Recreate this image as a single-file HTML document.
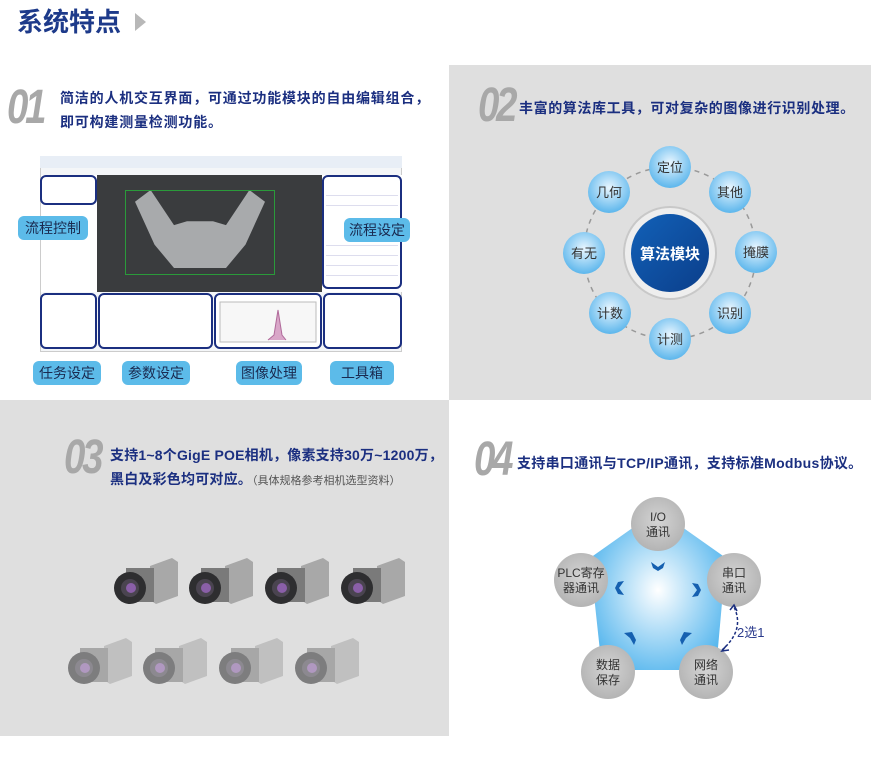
<!DOCTYPE html>
<html><head><meta charset="utf-8"><style>
*{margin:0;padding:0;box-sizing:border-box}
body{width:871px;height:759px;position:relative;background:#fff;font-family:"Liberation Sans","Noto Sans CJK SC",sans-serif;overflow:hidden}
.a{position:absolute}
.t{color:#1b2f80;font-weight:bold;font-size:14px;line-height:24px;white-space:nowrap;letter-spacing:0.8px}
.num{color:#a8a8a8;font-style:italic;font-weight:bold;font-size:48px;letter-spacing:-4px;font-family:"Liberation Sans",sans-serif;transform:scaleX(0.8);transform-origin:left}
.lab{background:#5cbbe9;border-radius:6px;color:#1a2a50;font-size:14px;text-align:center;line-height:24px}
.bb{border:2.5px solid #1b2f80;border-radius:6px}
.row{position:absolute;height:1px;background:#dde}
</style></head><body>
<div class="a" style="left:17px;top:5px;font-size:26px;font-weight:bold;color:#1d3a8a;line-height:34px">系统特点</div>
<div class="a" style="left:135px;top:13px;width:0;height:0;border-left:11px solid #b8b8b8;border-top:9px solid transparent;border-bottom:9px solid transparent"></div>

<div class="a" style="left:449px;top:65px;width:422px;height:335px;background:#dfdfdf"></div>
<div class="a" style="left:0;top:400px;width:449px;height:336px;background:#dfdfdf"></div>

<div class="a num" style="left:7px;top:80px">01</div>
<div class="a t" style="left:60px;top:86px">简洁的人机交互界面，可通过功能模块的自由编辑组合，<br>即可构建测量检测功能。</div>
<div class="a num" style="left:478px;top:78px">02</div>
<div class="a t" style="left:519px;top:96px;letter-spacing:0.6px">丰富的算法库工具，可对复杂的图像进行识别处理。</div>
<div class="a num" style="left:64px;top:430px">03</div>
<div class="a t" style="left:110px;top:443px;letter-spacing:0.2px">支持1~8个GigE POE相机，像素支持30万~1200万，<br>黑白及彩色均可对应。<span style="font-weight:normal;font-size:11px;color:#555;letter-spacing:0">（具体规格参考相机选型资料）</span></div>
<div class="a num" style="left:474px;top:432px">04</div>
<div class="a t" style="left:517px;top:451px;letter-spacing:0.3px">支持串口通讯与TCP/IP通讯，支持标准Modbus协议。</div>

<!-- screenshot -->
<div class="a" style="left:40px;top:156px;width:362px;height:196px;background:#f4f6f8;border:1px solid #ccc"></div>
<div class="a" style="left:40px;top:156px;width:362px;height:12px;background:#e8eef6"></div>
<div class="a" style="left:97px;top:175px;width:225px;height:117px;background:#3a3c3e"></div>
<div class="a" style="left:135px;top:190px;width:130px;height:78px;background:#a8aaac;clip-path:polygon(0 15%,12% 0,30% 45%,40% 40%,60% 40%,70% 45%,88% 0,100% 15%,85% 70%,70% 100%,30% 100%,15% 70%)"></div>
<div class="a" style="left:125px;top:190px;width:150px;height:85px;border:1px solid #2a9a3a"></div>
<div class="a" style="left:41px;top:175px;width:56px;height:117px;background:#fff"></div>
<div class="a" style="left:322px;top:175px;width:80px;height:117px;background:#fff"></div>
<div class="row" style="left:326px;top:195px;width:72px"></div><div class="row" style="left:326px;top:205px;width:72px"></div><div class="row" style="left:326px;top:245px;width:72px"></div><div class="row" style="left:326px;top:255px;width:72px"></div><div class="row" style="left:326px;top:265px;width:72px"></div><div class="row" style="left:326px;top:275px;width:72px"></div>
<div class="a bb" style="left:40px;top:175px;width:57px;height:30px"></div>
<div class="a bb" style="left:322px;top:175px;width:80px;height:114px"></div>
<div class="a bb" style="left:40px;top:293px;width:57px;height:56px;background:#fff"></div>
<div class="a bb" style="left:98px;top:293px;width:115px;height:56px;background:#fff"></div>
<div class="a bb" style="left:214px;top:293px;width:108px;height:56px;background:#fff"></div>
<div class="a bb" style="left:323px;top:293px;width:79px;height:56px;background:#fff"></div>
<svg class="a" style="left:218px;top:300px" width="100" height="45"><rect x="2" y="2" width="96" height="40" fill="#f7f7f7" stroke="#bbb"/><path d="M50 40 L56 35 L60 10 L64 35 L68 40" fill="#d9a6c8" stroke="#b06a9a"/></svg>
<div class="a lab" style="left:18px;top:216px;width:70px">流程控制</div>
<div class="a lab" style="left:344px;top:218px;width:66px">流程设定</div>
<div class="a lab" style="left:33px;top:361px;width:68px">任务设定</div>
<div class="a lab" style="left:122px;top:361px;width:68px">参数设定</div>
<div class="a lab" style="left:236px;top:361px;width:66px">图像处理</div>
<div class="a lab" style="left:330px;top:361px;width:64px">工具箱</div>

<!-- algorithm circle -->
<svg class="a" style="left:449px;top:65px" width="422" height="335" font-family="Liberation Sans,Noto Sans CJK SC,sans-serif">
<defs><radialGradient id="sb" cx="50%" cy="40%" r="60%"><stop offset="0" stop-color="#e9f6ff"/><stop offset="1" stop-color="#5cb6ec"/></radialGradient>
<linearGradient id="cb" x1="0" y1="0" x2="1" y2="1"><stop offset="0" stop-color="#1261b8"/><stop offset="1" stop-color="#0b3e8a"/></linearGradient></defs>
<circle cx="221" cy="188" r="86" fill="none" stroke="#999" stroke-width="1.5" stroke-dasharray="5 5"/>
<circle cx="221" cy="188" r="46" fill="#eee" stroke="#c8c8c8" stroke-width="2"/>
<circle cx="221" cy="188" r="39" fill="url(#cb)"/>
<text x="221" y="194" text-anchor="middle" fill="#fff" font-size="15" font-weight="bold">算法模块</text>
<g font-size="13" fill="#333" text-anchor="middle">
<circle cx="221" cy="102" r="21" fill="url(#sb)"/><text x="221" y="107">定位</text>
<circle cx="281" cy="127" r="21" fill="url(#sb)"/><text x="281" y="132">其他</text>
<circle cx="307" cy="187" r="21" fill="url(#sb)"/><text x="307" y="192">掩膜</text>
<circle cx="281" cy="248" r="21" fill="url(#sb)"/><text x="281" y="253">识别</text>
<circle cx="221" cy="274" r="21" fill="url(#sb)"/><text x="221" y="279">计测</text>
<circle cx="161" cy="248" r="21" fill="url(#sb)"/><text x="161" y="253">计数</text>
<circle cx="135" cy="188" r="21" fill="url(#sb)"/><text x="135" y="193">有无</text>
<circle cx="160" cy="127" r="21" fill="url(#sb)"/><text x="160" y="132">几何</text>
</g></svg>

<!-- cameras -->
<svg class="a" style="left:0;top:540px" width="449" height="196">
<defs><g id="cam"><path d="M40 8 L62 0 L68 4 L68 38 L46 46 L40 42Z" fill="#a8a8a8"/><rect x="16" y="10" width="28" height="34" fill="#7a7a7a"/><circle cx="20" cy="30" r="16" fill="#2e2e30"/><circle cx="20" cy="30" r="9" fill="#4a4450"/><circle cx="21" cy="30" r="5" fill="#8a5fa8"/></g></defs>
<g><use href="#cam" x="110" y="18"/><use href="#cam" x="185" y="18"/><use href="#cam" x="261" y="18"/><use href="#cam" x="337" y="18"/></g>
<g opacity="0.55"><use href="#cam" x="64" y="98"/><use href="#cam" x="139" y="98"/><use href="#cam" x="215" y="98"/><use href="#cam" x="291" y="98"/></g>
</svg>

<!-- pentagon -->
<svg class="a" style="left:540px;top:490px" width="260" height="220" font-family="Liberation Sans,Noto Sans CJK SC,sans-serif">
<defs><radialGradient id="pg" cx="50%" cy="50%" r="55%"><stop offset="0" stop-color="#fff"/><stop offset="1" stop-color="#5ab8ee"/></radialGradient>
<radialGradient id="gg" cx="50%" cy="45%" r="55%"><stop offset="0" stop-color="#d4d4d4"/><stop offset="1" stop-color="#b4b4b4"/></radialGradient></defs>
<polygon points="118,20 186,68 176,180 62,180 50,68" fill="url(#pg)"/>
<g fill="#1560b0">
<path d="M111 72 l7 5 l7 -5 l-2 6 l-5 3 l-5 -3z"/>
<path d="M84 91 l-5 7 l5 7 l-6 -1 l-3 -6 l3 -6z"/>
<path d="M152 93 l5 7 l-5 7 l6 -1 l3 -6 l-3 -6z"/>
<path d="M84 143 l8 -1 l4 8 l-2 5 l-4 -7z"/>
<path d="M152 143 l-8 -1 l-4 8 l2 5 l4 -7z"/>
</g>
<g font-size="12" fill="#333" text-anchor="middle">
<circle cx="118" cy="34" r="27" fill="url(#gg)"/><text x="118" y="31">I/O</text><text x="118" y="46">通讯</text>
<circle cx="194" cy="90" r="27" fill="url(#gg)"/><text x="194" y="87">串口</text><text x="194" y="102">通讯</text>
<circle cx="166" cy="182" r="27" fill="url(#gg)"/><text x="166" y="179">网络</text><text x="166" y="194">通讯</text>
<circle cx="68" cy="182" r="27" fill="url(#gg)"/><text x="68" y="179">数据</text><text x="68" y="194">保存</text>
<circle cx="41" cy="90" r="27" fill="url(#gg)"/><text x="41" y="87">PLC寄存</text><text x="41" y="102">器通讯</text>
</g>
<path d="M182 160 Q205 140 194 117" fill="none" stroke="#1b2f80" stroke-width="1.5" stroke-dasharray="3 2"/>
<path d="M190 120 L194 115 L197 121" fill="none" stroke="#1b2f80" stroke-width="1.5"/>
<path d="M186 156 L182 161 L189 160" fill="none" stroke="#1b2f80" stroke-width="1.5"/>
<text x="197" y="147" font-size="13" fill="#2a3a8c">2选1</text>
</svg>
</body></html>
